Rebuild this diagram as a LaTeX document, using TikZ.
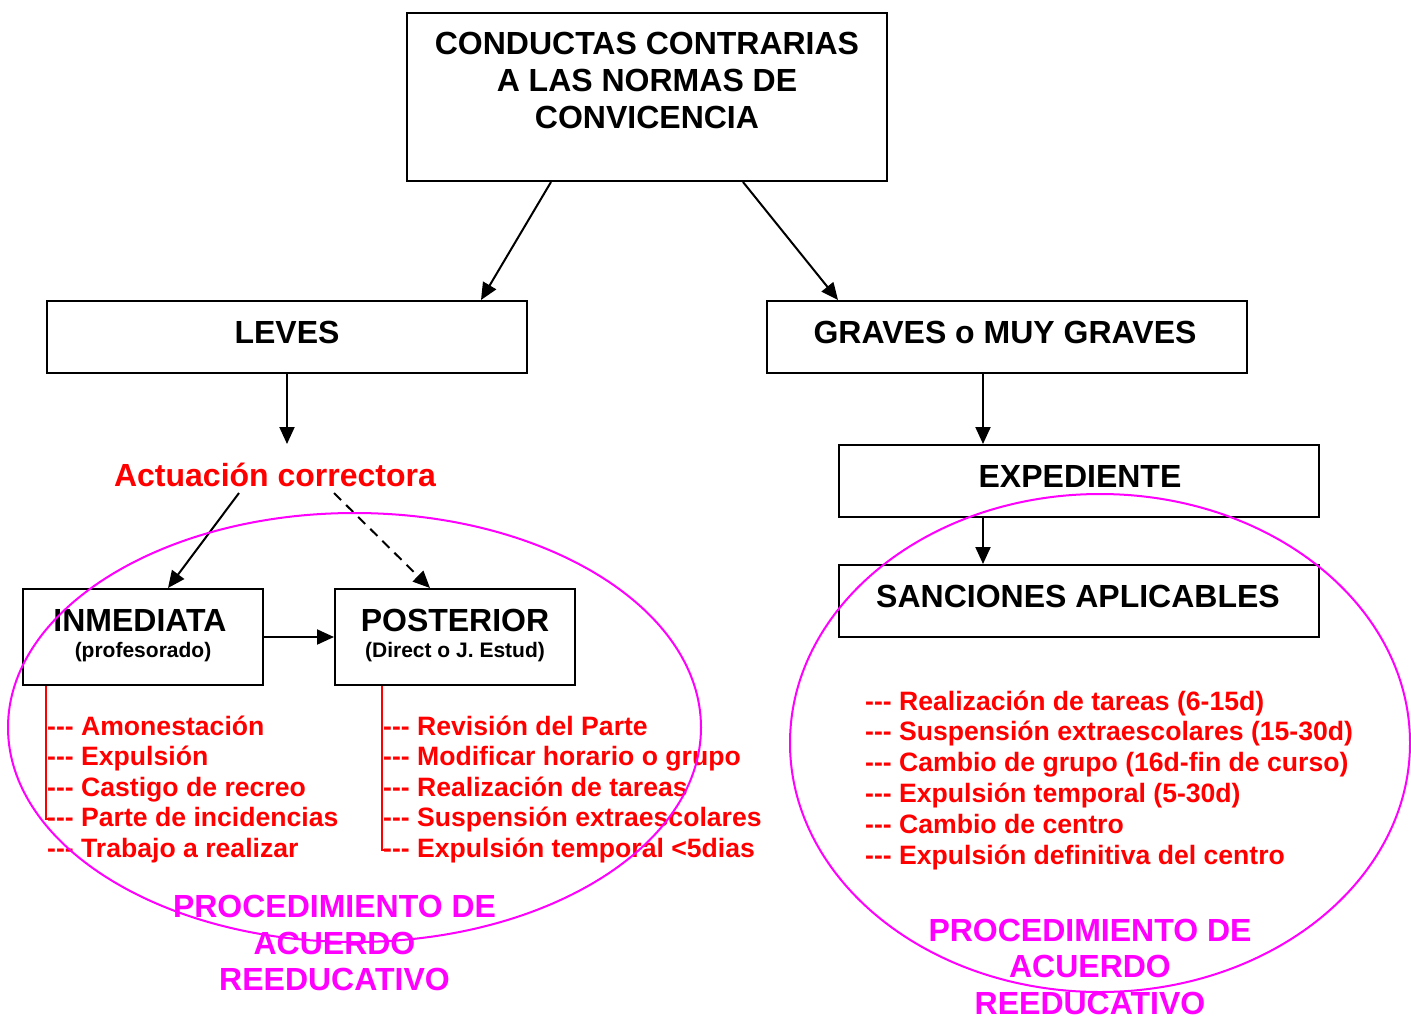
\documentclass[tikz,border=0pt]{standalone}
\usepackage{fontspec}
\setmainfont{Liberation Sans}
\usetikzlibrary{arrows.meta,shapes.geometric}
\definecolor{mag}{HTML}{FF00FF}
\definecolor{myred}{HTML}{FF0000}
\begin{document}
\begin{tikzpicture}[x=1pt,y=-1pt,
 box/.style={draw, line width=2pt, inner sep=0pt},
 big/.style={font=\bfseries\fontsize{32}{37}\selectfont, inner sep=0pt},
 subt/.style={font=\bfseries\fontsize{21}{25}\selectfont, inner sep=0pt},
 listitem/.style={font=\bfseries\fontsize{26.6}{31}\selectfont, text=myred, inner sep=0pt, anchor=base west},
 proc/.style={font=\bfseries\fontsize{32}{36.5}\selectfont, text=mag, inner sep=0pt, align=center},
 arr/.style={line width=2pt, -{Triangle[length=17pt,width=15pt]}},
 ring/.style={draw=mag, line width=2pt, ellipse, inner sep=0pt},
 redline/.style={draw=myred, line width=1.6pt}
]
\useasboundingbox (0,0) rectangle (1411,1017);

% boxes
\node[box, minimum width=480pt, minimum height=168pt] (top) at (647,97) {};
\node[big, align=center] (toptxt) at (647,80) {CONDUCTAS CONTRARIAS\\A LAS NORMAS DE\\CONVICENCIA};

\node[box, minimum width=480pt, minimum height=72pt] (leves) at (287,337) {};
\node[big, anchor=base] (levestxt) at (287,343.5) {LEVES};

\node[box, minimum width=480pt, minimum height=72pt] (graves) at (1007,337) {};
\node[big, anchor=base] (gravestxt) at (1005,343.5) {GRAVES o MUY GRAVES};

\node[big, anchor=base, text=myred] (act) at (275,486.5) {Actuación correctora};
\coordinate (actin) at (287,444);
\coordinate (actBL) at (239,493);
\coordinate (actBR) at (334,493);

\node[box, minimum width=240pt, minimum height=96pt] (inm) at (143,637) {};
\node[big, anchor=base] (inmtxt) at (140,631.5) {INMEDIATA};
\node[subt, anchor=base] (inmsub) at (143,657) {(profesorado)};

\node[box, minimum width=240pt, minimum height=96pt] (post) at (455,637) {};
\node[big, anchor=base] (posttxt) at (455,631.5) {POSTERIOR};
\node[subt, anchor=base] (postsub) at (455,657) {(Direct o J. Estud)};

\node[box, minimum width=480pt, minimum height=72pt] (exp) at (1079,481) {};
\node[big, anchor=base] (exptxt) at (1080,487.5) {EXPEDIENTE};

\node[box, minimum width=480pt, minimum height=72pt] (sanc) at (1079,601) {};
\node[big, anchor=base] (sanctxt) at (1078,607.5) {SANCIONES APLICABLES};

% arrows
\draw[arr] ([xshift=-96pt]top.south) -- ([xshift=194pt]leves.north);
\draw[arr] ([xshift=96pt]top.south) -- ([xshift=-169pt]graves.north);
\draw[arr] (leves.south) -- (actin);
\draw[arr] (actBL) -- ([xshift=25pt]inm.north);
\draw[arr, dash pattern=on 10pt off 7pt] (actBR) -- ([xshift=-25pt]post.north);
\draw[arr] (inm.east) -- (post.west);
\draw[arr] ([xshift=-24pt]graves.south) -- ([xshift=-96pt]exp.north);
\draw[arr] ([xshift=-96pt]exp.south) -- ([xshift=-96pt]sanc.north);

% red brackets
\coordinate (inmEnd) at (52,819);
\coordinate (postEnd) at (388,850);
\draw[redline] ([xshift=24pt]inm.south west) |- (inmEnd);
\draw[redline] ([xshift=48pt]post.south west) |- (postEnd);

% lists
\foreach \t [count=\i from 0] in {Amonestación,Expulsión,Castigo de recreo,Parte de incidencias,Trabajo a realizar}
  \node[listitem] (la\i) at (47,{735+30.6*\i}) {-{}-{}- \t};
\foreach \t [count=\i from 0] in {Revisión del Parte,Modificar horario o grupo,Realización de tareas,Suspensión extraescolares,Expulsión temporal <5dias}
  \node[listitem] (lb\i) at (383,{735+30.6*\i}) {-{}-{}- \t};
\foreach \t [count=\i from 0] in {Realización de tareas (6-15d),Suspensión extraescolares (15-30d),Cambio de grupo (16d-fin de curso),Expulsión temporal (5-30d),Cambio de centro,Expulsión definitiva del centro}
  \node[listitem] (lc\i) at (865,{710+30.8*\i}) {-{}-{}- \t};

% procedure labels
\node[proc] (procL) at (334.5,943) {PROCEDIMIENTO DE\\ACUERDO\\REEDUCATIVO};
\node[proc] (procR) at (1090,966.5) {PROCEDIMIENTO DE\\ACUERDO\\REEDUCATIVO};

% ellipses
\node[ring, minimum width=693pt, minimum height=429pt] (ellL) at (354.5,727.5) {};
\node[ring, minimum width=620pt, minimum height=498pt] (ellR) at (1100,743) {};
\end{tikzpicture}
\end{document}
